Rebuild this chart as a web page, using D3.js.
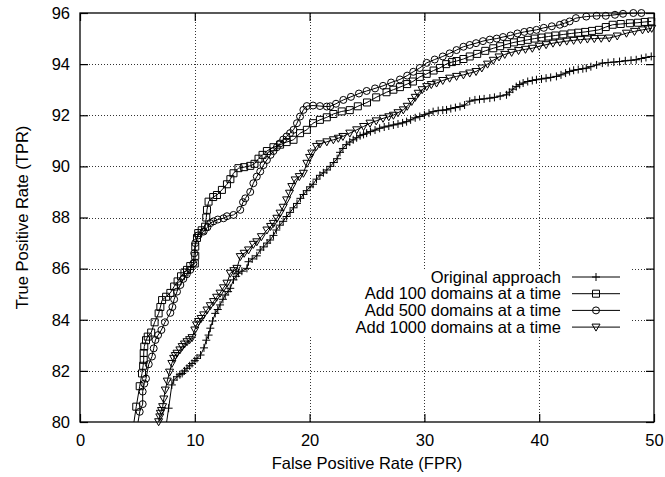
<!DOCTYPE html>
<html><head><meta charset="utf-8">
<script src="https://cdn.jsdelivr.net/npm/d3@7/dist/d3.min.js"></script>
<style>html,body{margin:0;padding:0;background:#fff;}svg{display:block;}</style>
</head><body>
<script>
const seriesNames = ["Original approach","Add 100 domains at a time","Add 500 domains at a time","Add 1000 domains at a time"];
const markerTypes = ["plus","square","circle","triangle"];
const xTicks = [0,10,20,30,40,50];
const yTicks = [80,82,84,86,88,90,92,94,96];
const xTitle = "False Positive Rate (FPR)";
const yTitle = "True Positive Rate (TPR)";

const originalApproach = [[7.45,79.7],[7.72,80.54],[8.0,81.45],[8.16,81.64],[8.45,81.77],[8.7,81.85],[8.9,81.9],[9.1,82.0],[9.32,82.1],[9.55,82.2],[9.76,82.29],[10.0,82.4],[10.19,82.49],[10.5,82.62],[10.8,82.9],[11.0,83.2],[11.2,83.4],[11.35,83.67],[11.55,83.95],[11.78,84.25],[12.0,84.4],[12.2,84.58],[12.45,84.8],[12.65,84.97],[12.9,85.1],[13.09,85.23],[13.37,85.56],[13.6,85.7],[13.8,85.82],[14.1,85.9],[14.54,86.01],[14.68,86.27],[15.0,86.38],[15.4,86.5],[15.7,86.73],[16.0,86.85],[16.3,87.0],[16.56,87.12],[16.85,87.3],[17.1,87.51],[17.4,87.7],[17.7,87.85],[18.0,88.04],[18.3,88.2],[18.6,88.38],[18.9,88.55],[19.2,88.75],[19.46,88.9],[19.75,89.05],[20.04,89.2],[20.3,89.3],[20.6,89.5],[20.9,89.65],[21.2,89.75],[21.5,89.86],[21.8,90.0],[22.1,90.15],[22.4,90.3],[22.65,90.55],[22.9,90.7],[23.2,90.85],[23.5,90.95],[23.8,91.04],[24.1,91.12],[24.4,91.2],[24.7,91.25],[24.97,91.3],[25.3,91.36],[25.7,91.42],[26.1,91.49],[26.5,91.54],[26.9,91.58],[27.3,91.62],[27.7,91.66],[28.1,91.7],[28.45,91.75],[28.8,91.82],[29.2,91.9],[29.6,91.95],[30.0,92.02],[30.4,92.08],[30.76,92.14],[31.2,92.18],[31.6,92.2],[31.93,92.21],[32.3,92.26],[32.7,92.3],[33.1,92.34],[33.5,92.4],[33.95,92.55],[34.4,92.6],[34.8,92.62],[35.2,92.64],[35.7,92.67],[36.1,92.7],[36.6,92.75],[37.15,92.8],[37.4,92.9],[37.7,93.02],[38.0,93.12],[38.3,93.2],[38.6,93.26],[39.0,93.32],[39.4,93.36],[39.76,93.39],[40.2,93.42],[40.6,93.45],[41.0,93.48],[41.5,93.52],[41.9,93.58],[42.3,93.65],[42.65,93.71],[43.0,93.76],[43.4,93.79],[43.8,93.82],[44.1,93.84],[44.5,93.9],[45.0,93.97],[45.5,94.04],[46.0,94.06],[46.5,94.08],[47.0,94.1],[47.5,94.13],[48.0,94.15],[48.45,94.17],[48.9,94.22],[49.3,94.26],[49.76,94.3]];

const add100 = [[4.6,79.7],[4.9,80.6],[5.2,81.4],[5.4,81.9],[5.5,82.2],[5.55,82.43],[5.55,82.7],[5.6,82.95],[5.75,83.2],[5.9,83.34],[6.2,83.5],[6.5,83.9],[6.85,84.25],[7.0,84.5],[7.15,84.77],[7.5,84.9],[7.87,85.05],[8.2,85.3],[8.5,85.5],[8.8,85.7],[9.1,85.85],[9.32,85.95],[9.6,86.1],[10.0,86.2],[10.04,86.5],[10.04,86.86],[10.19,87.2],[10.3,87.39],[10.6,87.5],[10.9,87.64],[11.0,88.0],[11.06,88.3],[11.2,88.62],[11.6,88.8],[11.93,88.88],[12.36,89.08],[12.8,89.3],[13.1,89.5],[13.37,89.73],[13.8,89.93],[14.3,89.97],[14.83,90.02],[15.2,90.1],[15.55,90.3],[15.9,90.45],[16.28,90.6],[16.85,90.75],[17.43,90.85],[18.0,90.95],[18.6,91.04],[19.17,91.3],[19.76,91.43],[20.3,91.69],[20.9,91.82],[21.5,91.92],[22.07,92.05],[22.8,92.15],[23.5,92.2],[24.2,92.35],[25.0,92.5],[25.8,92.7],[26.7,92.9],[27.3,93.0],[27.87,93.1],[28.5,93.22],[29.0,93.32],[29.6,93.5],[30.2,93.62],[30.8,93.75],[31.35,93.85],[31.9,94.0],[32.4,94.08],[32.8,94.12],[33.4,94.2],[33.95,94.3],[34.6,94.4],[35.3,94.52],[36.0,94.62],[36.6,94.7],[37.2,94.78],[37.8,94.85],[38.4,94.9],[39.0,94.95],[39.6,95.0],[40.2,95.04],[40.8,95.08],[41.4,95.12],[42.1,95.16],[42.8,95.2],[43.4,95.23],[44.0,95.26],[44.6,95.3],[45.2,95.34],[45.8,95.45],[46.4,95.54],[47.1,95.57],[47.9,95.6],[48.6,95.62],[49.2,95.65],[49.76,95.67]];

const add500 = [[4.95,79.7],[5.2,80.4],[5.46,80.7],[5.46,81.19],[5.6,81.5],[5.75,81.7],[5.99,82.26],[6.27,82.56],[6.42,82.88],[6.57,83.21],[6.8,83.4],[7.09,83.6],[7.4,83.9],[7.87,84.27],[8.05,84.5],[8.2,84.8],[8.45,85.1],[8.74,85.36],[9.0,85.6],[9.3,85.78],[9.6,85.95],[9.87,86.2],[9.95,86.6],[10.04,87.0],[10.3,87.3],[10.77,87.45],[11.1,87.62],[11.35,87.78],[11.63,87.85],[12.0,87.92],[12.5,87.97],[12.8,88.05],[13.37,88.1],[13.96,88.3],[14.2,88.6],[14.4,88.75],[14.83,89.0],[15.1,89.34],[15.4,89.6],[15.7,89.8],[15.98,90.05],[16.28,90.25],[16.6,90.45],[16.85,90.6],[17.15,90.75],[17.43,90.9],[17.7,91.05],[18.0,91.17],[18.3,91.3],[18.6,91.43],[18.9,91.69],[19.17,91.95],[19.46,92.21],[19.76,92.36],[20.3,92.38],[20.9,92.36],[21.5,92.34],[21.8,92.35],[22.3,92.45],[22.94,92.6],[23.6,92.72],[24.3,92.85],[24.97,92.95],[25.7,93.05],[26.4,93.15],[27.1,93.28],[27.87,93.4],[28.5,93.55],[29.03,93.7],[29.6,93.85],[30.2,94.05],[30.9,94.18],[31.6,94.3],[32.2,94.42],[32.8,94.55],[33.4,94.68],[33.95,94.75],[34.5,94.82],[35.1,94.9],[35.7,94.96],[36.3,95.0],[36.85,95.06],[37.5,95.12],[38.1,95.2],[38.7,95.26],[39.2,95.3],[39.76,95.34],[40.4,95.42],[41.1,95.48],[41.8,95.54],[42.2,95.6],[42.65,95.67],[43.2,95.8],[44.1,95.86],[45.0,95.89],[45.8,95.89],[46.6,95.93],[47.3,95.97],[48.2,96.0],[48.9,96.0]];

const add1000 = [[6.75,79.7],[6.85,80.01],[6.95,80.2],[7.0,80.34],[7.1,80.45],[7.2,80.6],[7.3,80.9],[7.43,81.25],[7.6,81.6],[7.8,81.95],[8.0,82.29],[8.16,82.49],[8.3,82.6],[8.45,82.69],[8.7,82.82],[8.9,82.95],[9.1,83.05],[9.32,83.14],[9.55,83.22],[9.76,83.3],[10.0,83.6],[10.15,83.8],[10.33,83.93],[10.55,84.05],[10.77,84.19],[11.06,84.38],[11.35,84.55],[11.63,84.71],[11.9,84.88],[12.2,85.04],[12.5,85.25],[12.8,85.43],[13.09,85.82],[13.4,85.92],[13.67,86.01],[13.96,86.47],[14.3,86.6],[14.68,86.73],[15.1,86.95],[15.4,87.05],[15.8,87.25],[16.28,87.51],[16.6,87.65],[16.85,87.77],[17.15,87.97],[17.43,88.17],[17.7,88.4],[18.0,88.69],[18.25,88.95],[18.45,89.21],[18.74,89.47],[19.1,89.6],[19.46,89.73],[19.76,90.12],[20.0,90.35],[20.19,90.52],[20.6,90.78],[20.9,90.88],[21.5,90.96],[22.07,91.04],[22.5,91.1],[22.9,91.17],[23.5,91.3],[24.1,91.43],[24.7,91.56],[25.26,91.69],[25.8,91.78],[26.4,91.88],[26.9,91.94],[27.3,92.0],[27.7,92.1],[28.16,92.21],[28.5,92.35],[28.9,92.54],[29.2,92.7],[29.46,92.86],[29.8,93.0],[30.2,93.12],[30.6,93.2],[31.06,93.26],[31.6,93.36],[32.2,93.45],[32.8,93.52],[33.4,93.58],[33.95,93.65],[34.5,93.71],[35.0,93.85],[35.5,94.0],[36.0,94.15],[36.5,94.28],[37.0,94.38],[37.6,94.46],[38.2,94.53],[38.8,94.58],[39.4,94.62],[40.0,94.7],[40.6,94.76],[41.2,94.82],[41.8,94.86],[42.4,94.9],[43.0,94.93],[43.6,94.96],[44.2,94.98],[44.8,95.0],[45.4,95.01],[46.1,95.02],[46.8,95.1],[47.6,95.21],[48.3,95.28],[49.0,95.34],[49.5,95.38],[49.8,95.4]];

const allSeries = [originalApproach, add100, add500, add1000];

const W = 665, H = 477;
const pLeft = 80, pRight = 654, pTop = 13, pBottom = 422;
const font = "'Liberation Sans', Arial, Helvetica, sans-serif";
const fs = 16.5;

const svg = d3.select("body").append("svg").attr("width", W).attr("height", H)
  .style("font-family", font);

const x = d3.scaleLinear().domain([0,50]).range([pLeft,pRight]);
const y = d3.scaleLinear().domain([80,96]).range([pBottom,pTop]);

// grid
const grid = svg.append("g").attr("stroke","#333").attr("stroke-width",1).attr("stroke-dasharray","1,2").attr("shape-rendering","crispEdges");
grid.selectAll("line.gx").data(xTicks.filter(t => t > 0 && t < 50)).join("line")
  .attr("x1", d => Math.round(x(d))+0.5).attr("x2", d => Math.round(x(d))+0.5)
  .attr("y1", pTop).attr("y2", pBottom);
grid.selectAll("line.gy").data(yTicks.filter(t => t > 80 && t < 96)).join("line")
  .attr("y1", d => Math.round(y(d))+0.5).attr("y2", d => Math.round(y(d))+0.5)
  .attr("x1", pLeft).attr("x2", pRight);

// legend clear area
svg.append("rect").attr("x", 300).attr("y", 269).attr("width", 330).attr("height", 68).attr("fill", "#fff");

// axes (inward ticks)
const tk = 8;
const gx = svg.append("g").attr("transform", `translate(0,${pBottom})`)
  .call(d3.axisBottom(x).tickValues(xTicks).tickSizeInner(-tk).tickSizeOuter(0).tickPadding(12));
const gxt = svg.append("g").attr("transform", `translate(0,${pTop})`)
  .call(d3.axisTop(x).tickValues(xTicks).tickSizeInner(-tk).tickSizeOuter(0).tickFormat(""));
const gy = svg.append("g").attr("transform", `translate(${pLeft},0)`)
  .call(d3.axisLeft(y).tickValues(yTicks).tickSizeInner(-tk).tickSizeOuter(0).tickPadding(10));
const gyr = svg.append("g").attr("transform", `translate(${pRight},0)`)
  .call(d3.axisRight(y).tickValues(yTicks).tickSizeInner(-tk).tickSizeOuter(0).tickFormat(""));
[gx,gxt,gy,gyr].forEach(g => {
  g.select(".domain").remove();
  g.selectAll(".tick line").attr("stroke","#000").attr("stroke-width",1.2);
  g.selectAll("text").attr("fill","#000").style("font-family", font).style("font-size", fs+"px");
});

// clip for lines
svg.append("clipPath").attr("id","plotclip").append("rect")
  .attr("x", pLeft).attr("y", pTop).attr("width", pRight-pLeft).attr("height", pBottom-pTop);

function markerPath(type, cx, cy) {
  const s = 3.5;
  if (type === "plus") return `M${cx-4},${cy}H${cx+4}M${cx},${cy-4}V${cy+4}`;
  if (type === "square") return `M${cx-s},${cy-s}H${cx+s}V${cy+s}H${cx-s}Z`;
  if (type === "circle") return `M${cx-s},${cy}A${s},${s} 0 1,0 ${cx+s},${cy}A${s},${s} 0 1,0 ${cx-s},${cy}Z`;
  if (type === "triangle") return `M${cx-4},${cy-3}H${cx+4}L${cx},${cy+4}Z`;
}

const line = d3.line().x(d => x(d[0])).y(d => y(d[1]));
const plot = svg.append("g");
allSeries.forEach((data, i) => {
  plot.append("path").datum(data).attr("d", line).attr("clip-path","url(#plotclip)")
    .attr("fill","none").attr("stroke","#000").attr("stroke-width",1);
  plot.append("g").selectAll("path").data(data.filter(d => d[1] >= 80 && d[0] <= 50)).join("path")
    .attr("d", d => markerPath(markerTypes[i], x(d[0]), y(d[1])))
    .attr("fill","none").attr("stroke","#000").attr("stroke-width",1);
});

// frame
svg.append("rect").attr("x", pLeft).attr("y", pTop).attr("width", pRight-pLeft).attr("height", pBottom-pTop)
  .attr("fill","none").attr("stroke","#000").attr("stroke-width",1.3);

// legend
const lg = svg.append("g");
seriesNames.forEach((name, i) => {
  const ly = 277 + i*16.7;
  lg.append("text").attr("x", 561).attr("y", ly).attr("dy","0.35em").attr("text-anchor","end")
    .style("font-size", fs+"px").attr("fill","#000").text(name);
  lg.append("line").attr("x1", 572).attr("x2", 620).attr("y1", ly).attr("y2", ly).attr("stroke","#000").attr("stroke-width",1);
  lg.append("path").attr("d", markerPath(markerTypes[i], 596, ly)).attr("fill","none").attr("stroke","#000").attr("stroke-width",1);
});

// titles
svg.append("text").attr("x", (pLeft+pRight)/2).attr("y", 469).attr("text-anchor","middle")
  .style("font-size", fs+"px").attr("fill","#000").text(xTitle);
svg.append("text").attr("transform", `translate(28,${(pTop+pBottom)/2}) rotate(-90)`).attr("text-anchor","middle")
  .style("font-size", fs+"px").attr("fill","#000").text(yTitle);
</script>
</body></html>
